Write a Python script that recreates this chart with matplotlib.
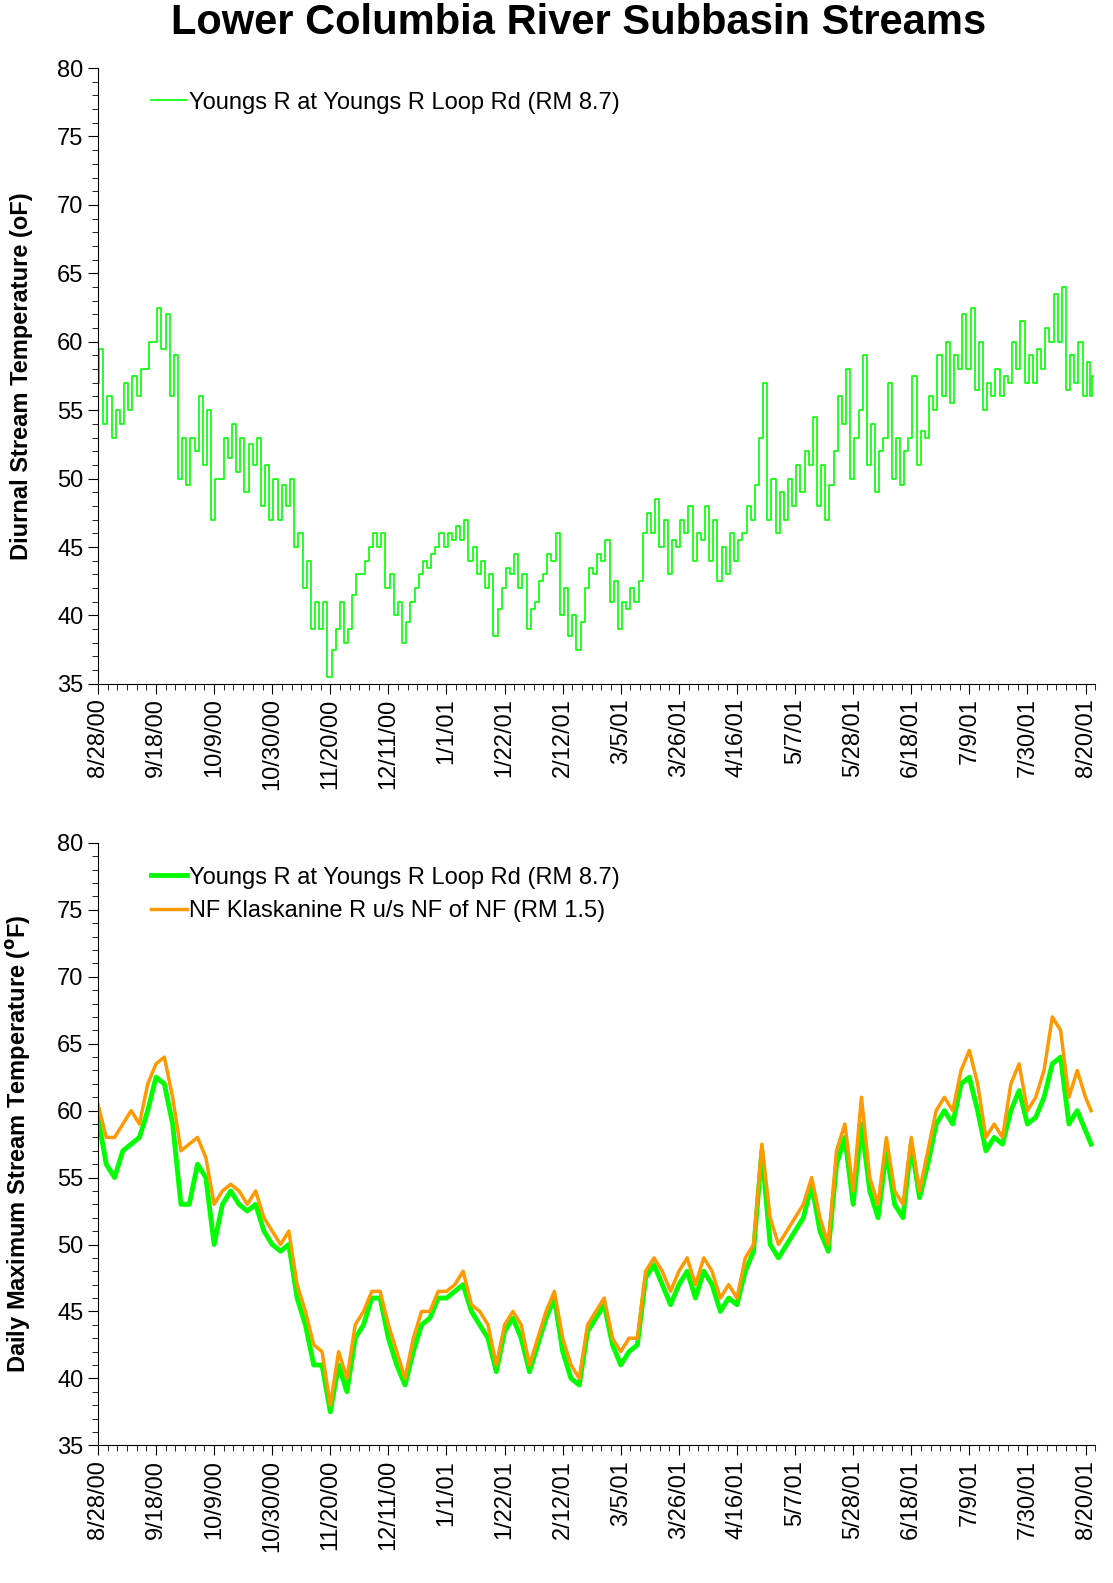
import numpy as np
import matplotlib.pyplot as plt
import matplotlib.dates as mdates
from datetime import datetime, timedelta

plt.rcParams['font.family'] = ['Liberation Sans', 'DejaVu Sans']

start = datetime(2000, 8, 28)
days = list(range(0, 358, 3)) + [359]

# daily maximum, NF Klaskanine R (orange)
klask_max = [60.5, 58, 58, 59, 60, 59, 62, 63.5, 64, 61,
             57, 57.5, 58, 56.5, 53, 54, 54.5, 54, 53, 54,
             52, 51, 50, 51, 47, 45, 42.5, 42, 38, 42,
             40, 44, 45, 46.5, 46.5, 44, 42, 40, 43, 45,
             45, 46.5, 46.5, 47, 48, 45.5, 45, 44, 41, 44,
             45, 44, 41, 43, 45, 46.5, 43, 41, 40, 44,
             45, 46, 43, 42, 43, 43, 48, 49, 48, 46.5,
             48, 49, 47, 49, 48, 46, 47, 46, 49, 50,
             57.5, 52, 50, 51, 52, 53, 55, 52, 50, 57,
             59, 54, 61, 55, 53, 58, 54, 53, 58, 54,
             57, 60, 61, 60, 63, 64.5, 62, 58, 59, 58,
             62, 63.5, 60, 61, 63, 67, 66, 61, 63, 61,
             60]
# daily maximum, Youngs R (green)
youngs_max = [59.5, 56, 55, 57, 57.5, 58, 60, 62.5, 62, 59,
              53, 53, 56, 55, 50, 53, 54, 53, 52.5, 53,
              51, 50, 49.5, 50, 46, 44, 41, 41, 37.5, 41,
              39, 43, 44, 46, 46, 43, 41, 39.5, 42, 44,
              44.5, 46, 46, 46.5, 47, 45, 44, 43, 40.5, 43.5,
              44.5, 43, 40.5, 42.5, 44.5, 46, 42, 40, 39.5, 43.5,
              44.5, 45.5, 42.5, 41, 42, 42.5, 47.5, 48.5, 47, 45.5,
              47, 48, 46, 48, 47, 45, 46, 45.5, 48, 49.5,
              57, 50, 49, 50, 51, 52, 54.5, 51, 49.5, 56,
              58, 53, 59, 54, 52, 57, 53, 52, 57.5, 53.5,
              56, 59, 60, 59, 62, 62.5, 60, 57, 58, 57.5,
              60, 61.5, 59, 59.5, 61, 63.5, 64, 59, 60, 58.5,
              57.5]
# daily minimum, Youngs R
youngs_min = [57, 54, 53, 54, 55, 56, 58, 60, 59.5, 56,
              50, 49.5, 52, 51, 47, 50, 51.5, 50.5, 49, 51,
              48, 47, 47, 48, 45, 42, 39, 39, 35.5, 39,
              38, 41.5, 43, 45, 45, 42, 40, 38, 41, 43,
              43.5, 45, 45, 45.5, 45.5, 44, 43, 42, 38.5, 42,
              43, 42, 39, 41, 43, 44, 40, 38.5, 37.5, 42,
              43, 44, 41, 39, 40.5, 41, 46, 46, 45, 43,
              45, 46, 44, 45.5, 44, 42.5, 43, 44, 46, 47,
              53, 47, 46, 47, 48, 49, 51, 48, 47, 52,
              54, 50, 55, 51, 49, 53, 50, 49.5, 53, 51,
              53, 55, 56, 55.5, 58, 58, 56.5, 55, 56, 56,
              57, 58, 57, 57, 58, 60, 60, 56.5, 57, 56,
              56]

dates = [start + timedelta(days=d) for d in days]
# diurnal trace: min in the early morning, max in the afternoon
diurnal_t, diurnal_v = [], []
for d, lo, hi in zip(days, youngs_min, youngs_max):
    diurnal_t += [start + timedelta(days=d + 0.25), start + timedelta(days=d + 0.65)]
    diurnal_v += [lo, hi]

green = '#00ff00'
orange = '#ff9900'

fig = plt.figure(figsize=(11.13, 15.83), dpi=100)
fig.suptitle('Lower Columbia River Subbasin Streams', fontsize=30, fontweight='bold',
             x=0.52, y=0.998)
ax1 = fig.add_axes([0.088, 0.568, 0.896, 0.389])
ax2 = fig.add_axes([0.088, 0.087, 0.896, 0.3805])

ax1.step(diurnal_t, diurnal_v, where='mid', color=green, lw=1.2,
         label='Youngs R at Youngs R Loop Rd (RM 8.7)')
ax2.plot(dates, youngs_max, color=green, lw=3.5, label='Youngs R at Youngs R Loop Rd (RM 8.7)')
ax2.plot(dates, klask_max, color=orange, lw=2.5, label='NF Klaskanine R u/s NF of NF (RM 1.5)')

major = [start + timedelta(days=21 * i) for i in range(18)]
minor = [start + timedelta(days=3.5 * i) for i in range(104)]
for ax in (ax1, ax2):
    ax.set_xlim(start, start + timedelta(days=357.5))
    ax.set_ylim(35, 80)
    ax.set_yticks(range(35, 81, 5))
    ax.set_yticks(range(35, 81, 1), minor=True)
    ax.set_xticks(major)
    ax.set_xticks(minor, minor=True)
    ax.xaxis.set_major_formatter(mdates.DateFormatter('%-m/%-d/%y'))
    for s in ('top', 'right'):
        ax.spines[s].set_visible(False)
    ax.tick_params(axis='both', which='major', direction='out', length=7, labelsize=17)
    ax.tick_params(axis='both', which='minor', direction='out', length=4)
    ax.tick_params(axis='x', labelrotation=90)
    leg = ax.legend(loc='upper left', frameon=False, fontsize=17, handlelength=1.5,
                    handletextpad=0.1, borderaxespad=0.6, bbox_to_anchor=(0.03, 1.0))

ax1.set_ylabel('Diurnal Stream Temperature (oF)', fontsize=17, fontweight='bold')
ax2.set_ylabel('Daily Maximum Stream Temperature ($^{\\mathbf{o}}$F)', fontsize=17, fontweight='bold')
ax1.yaxis.set_label_coords(-0.065, 0.5)
ax2.yaxis.set_label_coords(-0.065, 0.5)

fig.savefig('out.png', dpi=100)
